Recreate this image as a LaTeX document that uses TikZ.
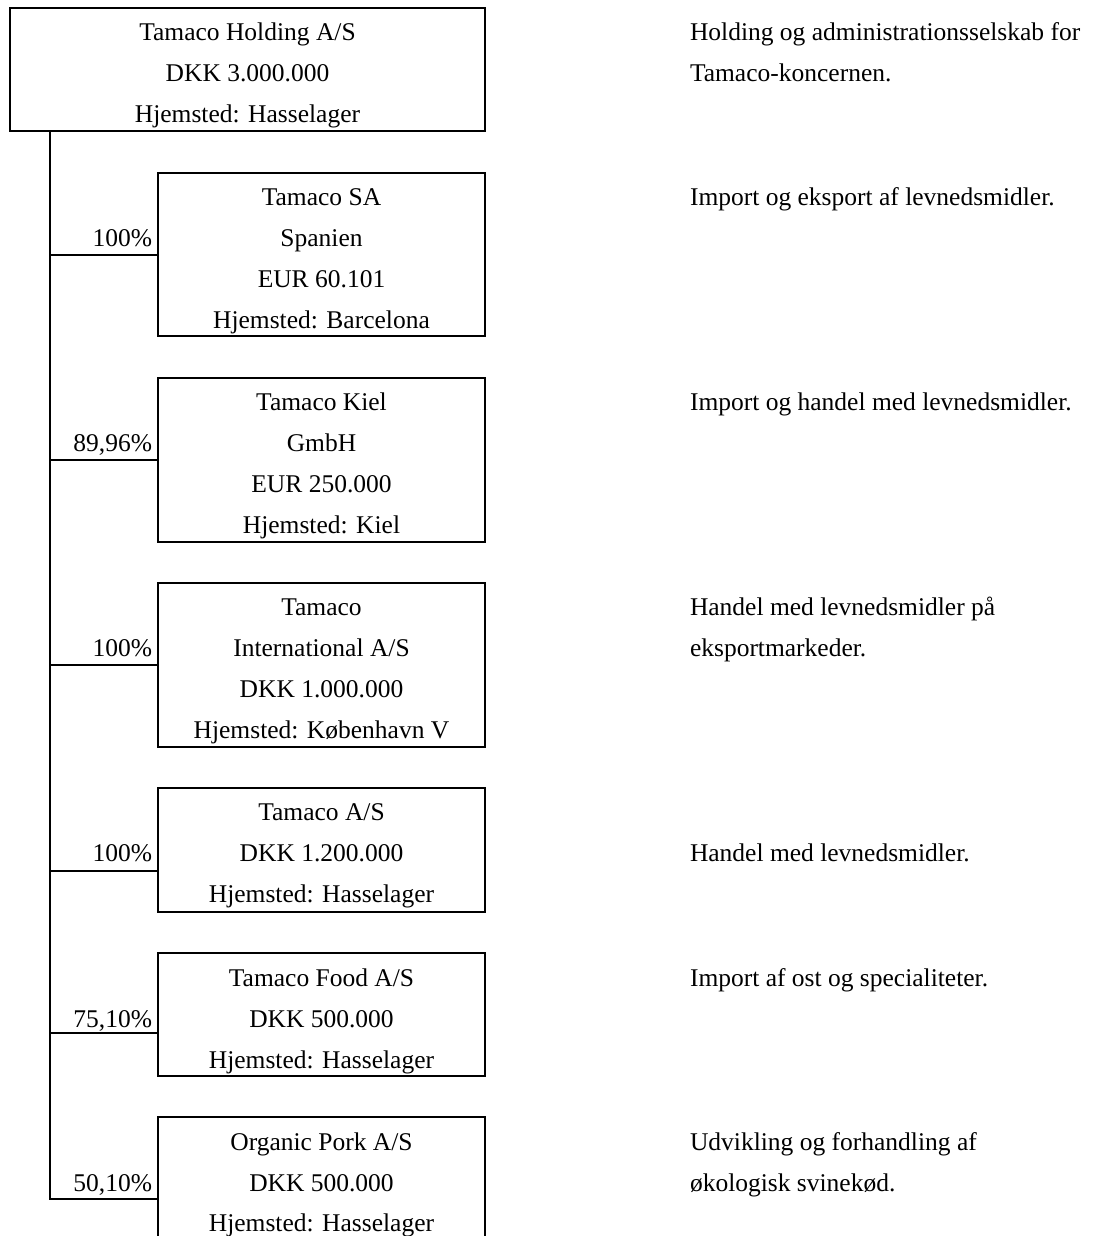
\documentclass[tikz,border=0pt]{standalone}
\usepackage{fontspec}
\setmainfont{Liberation Serif}
\begin{document}
\begin{tikzpicture}[x=0.5pt,y=-0.5pt,
  txt/.style={inner sep=0pt, outer sep=0pt, font=\fontsize{12.75}{15}\selectfont},
  ctr/.style={txt, anchor=base},
  lft/.style={txt, anchor=base west},
  pct/.style={txt, anchor=base east},
  box/.style={draw, line width=1.3pt, inner sep=0pt, outer sep=0pt, anchor=north west},
  conn/.style={line width=1.3pt}]
\useasboundingbox (0,0) rectangle (1104,1236);
\clip (0,0) rectangle (1104,1236);
% boxes
\node[box, minimum width=237.5pt, minimum height=61.5pt] (top) at (10,8) {};
\node[box, minimum width=163.5pt, minimum height=81.5pt] (c1) at (158,173) {};
\node[box, minimum width=163.5pt, minimum height=82pt] (c2) at (158,378) {};
\node[box, minimum width=163.5pt, minimum height=82pt] (c3) at (158,583) {};
\node[box, minimum width=163.5pt, minimum height=62pt] (c4) at (158,788) {};
\node[box, minimum width=163.5pt, minimum height=61.5pt] (c5) at (158,953) {};
\node[box, minimum width=163.5pt, minimum height=70pt] (c6) at (158,1117) {};
% box texts
\node[ctr] (t1) at (247.5,41) {Tamaco Holding A/S};
\node[ctr] (t2) at (247.5,82) {DKK 3.000.000};
\node[ctr] (t3) at (247.5,123) {Hjemsted: Hasselager};
\node[ctr] (a1) at (321.5,205) {Tamaco SA};
\node[ctr] (a2) at (321.5,246) {Spanien};
\node[ctr] (a3) at (321.5,287) {EUR 60.101};
\node[ctr] (a4) at (321.5,328) {Hjemsted: Barcelona};
\node[ctr] (b1) at (321.5,410) {Tamaco Kiel};
\node[ctr] (b2) at (321.5,451) {GmbH};
\node[ctr] (b3) at (321.5,492) {EUR 250.000};
\node[ctr] (b4) at (321.5,533) {Hjemsted: Kiel};
\node[ctr] (d1) at (321.5,615) {Tamaco};
\node[ctr] (d2) at (321.5,656) {International A/S};
\node[ctr] (d3) at (321.5,697) {DKK 1.000.000};
\node[ctr] (d4) at (321.5,738) {Hjemsted: København V};
\node[ctr] (e1) at (321.5,820) {Tamaco A/S};
\node[ctr] (e2) at (321.5,861) {DKK 1.200.000};
\node[ctr] (e3) at (321.5,902) {Hjemsted: Hasselager};
\node[ctr] (f1) at (321.5,986) {Tamaco Food A/S};
\node[ctr] (f2) at (321.5,1027) {DKK 500.000};
\node[ctr] (f3) at (321.5,1068) {Hjemsted: Hasselager};
\node[ctr] (g1) at (321.5,1150) {Organic Pork A/S};
\node[ctr] (g2) at (321.5,1191) {DKK 500.000};
\node[ctr] (g3) at (321.5,1231) {Hjemsted: Hasselager};
% percentages
\node[pct] (p1) at (152,246) {100\%};
\node[pct] (p2) at (152,451) {89,96\%};
\node[pct] (p3) at (152,656) {100\%};
\node[pct] (p4) at (152,861) {100\%};
\node[pct] (p5) at (152,1027) {75,10\%};
\node[pct] (p6) at (152,1191) {50,10\%};
% descriptions
\node[lft] (r1) at (690,41) {Holding og administrationsselskab for};
\node[lft] (r2) at (690,82) {Tamaco-koncernen.};
\node[lft] (r3) at (690,205) {Import og eksport af levnedsmidler.};
\node[lft] (r4) at (690,410) {Import og handel med levnedsmidler.};
\node[lft] (r5) at (690,615) {Handel med levnedsmidler på};
\node[lft] (r6) at (690,656) {eksportmarkeder.};
\node[lft] (r7) at (690,861) {Handel med levnedsmidler.};
\node[lft] (r8) at (690,986) {Import af ost og specialiteter.};
\node[lft] (r9) at (690,1150) {Udvikling og forhandling af};
\node[lft] (r10) at (690,1191) {økologisk svinekød.};
% connectors
\coordinate (j0) at (50,131);
\coordinate (j1) at (50,255);
\coordinate (j2) at (50,460);
\coordinate (j3) at (50,665);
\coordinate (j4) at (50,871);
\coordinate (j5) at (50,1033);
\coordinate (j6) at (50,1199);
\draw[conn] (j0) -- (j6) -- (j6 -| c6.west);
\draw[conn] (j1) -- (j1 -| c1.west);
\draw[conn] (j2) -- (j2 -| c2.west);
\draw[conn] (j3) -- (j3 -| c3.west);
\draw[conn] (j4) -- (j4 -| c4.west);
\draw[conn] (j5) -- (j5 -| c5.west);
\end{tikzpicture}
\end{document}
